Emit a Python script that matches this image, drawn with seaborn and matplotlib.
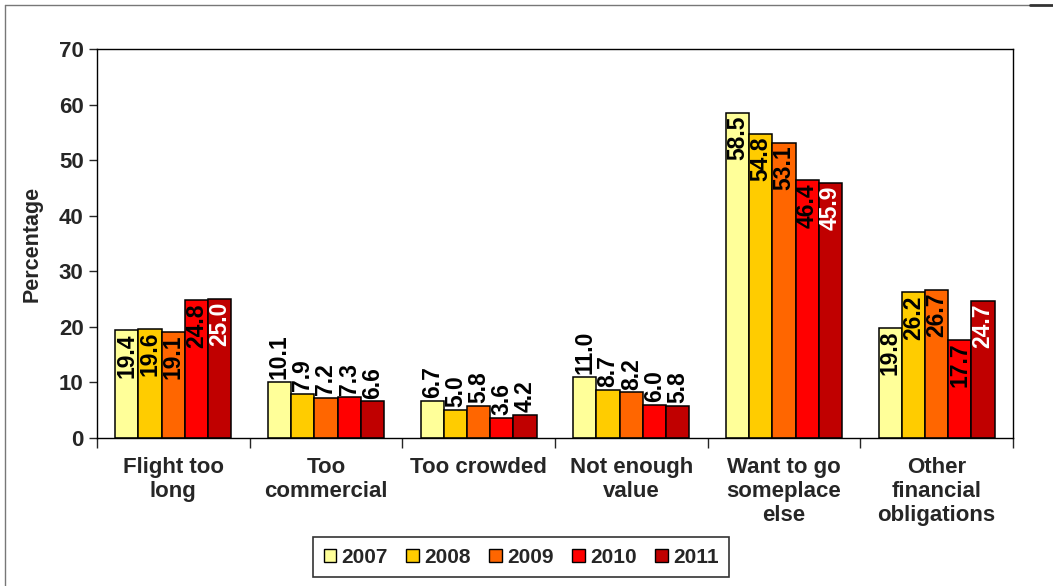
import numpy as np
import pandas as pd
import seaborn as sns
import matplotlib.pyplot as plt
from matplotlib.patches import Patch
from matplotlib.lines import Line2D

categories = ["Flight too\nlong", "Too\ncommercial", "Too crowded", "Not enough\nvalue",
              "Want to go\nsomeplace\nelse", "Other\nfinancial\nobligations"]
years = ["2007", "2008", "2009", "2010", "2011"]
v2007 = [19.4, 10.1, 6.7, 11.0, 58.5, 19.8]
v2008 = [19.6, 7.9, 5.0, 8.7, 54.8, 26.2]
v2009 = [19.1, 7.2, 5.8, 8.2, 53.1, 26.7]
v2010 = [24.8, 7.3, 3.6, 6.0, 46.4, 17.7]
v2011 = [25.0, 6.6, 4.2, 5.8, 45.9, 24.7]
colors = ["#FFFF99", "#FFCC00", "#FF6600", "#FF0000", "#C00000"]

rows = []
for y, vals in zip(years, [v2007, v2008, v2009, v2010, v2011]):
    for c, v in zip(categories, vals):
        rows.append({"Category": c, "Year": y, "Value": v})
df = pd.DataFrame(rows)

sns.set_style("white")
plt.rcParams['font.family'] = ['Liberation Sans', 'DejaVu Sans']
plt.rcParams['font.weight'] = 'bold'

fig = plt.figure(figsize=(10.53, 5.86), dpi=100)
ax = fig.add_axes([0.092, 0.2526, 0.870, 0.6634])

sns.barplot(data=df, x="Category", y="Value", hue="Year", palette=colors,
            saturation=1, width=0.76, edgecolor="black", linewidth=1.1,
            legend=False, ax=ax)

for i, cont in enumerate(ax.containers):
    for bar in cont:
        h = bar.get_height()
        x = bar.get_x() + bar.get_width() / 2
        if h > 15:
            col = "white" if i == 4 else "black"
            ax.text(x, h - 0.5, f"{h:.1f}", rotation=90, ha="center", va="top",
                    fontsize=16.5, fontweight="bold", color=col)
        else:
            ax.text(x, h + 0.5, f"{h:.1f}", rotation=90, ha="center", va="bottom",
                    fontsize=16.5, fontweight="bold", color="black")

ax.set_ylim(0, 70)
ax.set_yticks(np.arange(0, 71, 10))
ax.set_xlim(-0.5, len(categories) - 0.5)
ax.set_xticks(range(len(categories)))
ax.set_xticklabels(categories, fontsize=16, fontweight="bold", linespacing=1.18)
ax.set_xticks(np.arange(-0.5, len(categories), 1.0), minor=True)
ax.tick_params(axis="x", which="major", length=0, pad=14)
ax.tick_params(axis="x", which="minor", length=7, width=1, direction="out", bottom=True)
ax.tick_params(axis="y", length=6, width=1, direction="out", left=True, labelsize=16)
for lab in ax.get_yticklabels():
    lab.set_fontweight("bold")
ax.set_xlabel("")
ax.set_ylabel("Percentage", fontsize=15.5, fontweight="bold", labelpad=12)
for s in ax.spines.values():
    s.set_color("black")
    s.set_linewidth(1)

handles = [Patch(facecolor=c, edgecolor="black", linewidth=1) for c in colors]
leg = fig.legend(handles, years, loc="lower center", bbox_to_anchor=(0.495, 0.015),
                 ncol=5, frameon=True, fancybox=False, edgecolor="black",
                 prop={"size": 15, "weight": "bold"}, handlelength=0.6,
                 handleheight=0.6, handletextpad=0.25, columnspacing=0.9,
                 borderpad=0.5, borderaxespad=0)
leg.get_frame().set_linewidth(1.2)

fig.add_artist(Line2D([0.0047, 0.978], [0.991, 0.991], transform=fig.transFigure,
                      color="#777777", linewidth=1))
fig.add_artist(Line2D([0.978, 1.0], [0.991, 0.991], transform=fig.transFigure,
                      color="#333333", linewidth=2))
fig.add_artist(Line2D([0.0047, 0.0047], [0.0, 0.991], transform=fig.transFigure,
                      color="#777777", linewidth=1))

fig.savefig("out.png", dpi=100)
